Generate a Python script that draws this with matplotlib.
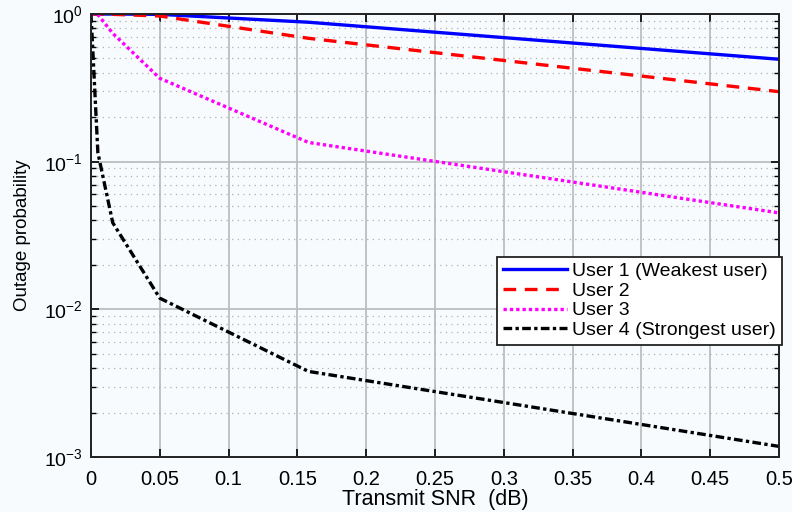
import numpy as np
import matplotlib
matplotlib.use('Agg')
import matplotlib.pyplot as plt
from matplotlib.ticker import LogLocator, NullFormatter

plt.rcParams['font.family'] = ['Liberation Sans', 'DejaVu Sans']
plt.rcParams['mathtext.fontset'] = 'custom'
plt.rcParams['mathtext.rm'] = 'Liberation Sans'
plt.rcParams['mathtext.it'] = 'Liberation Sans'

# transmit SNR sample points
snr = [0, 0.005, 0.0158, 0.05, 0.158, 0.5]

user1 = [1.0, 1.0, 1.0, 0.995, 0.88, 0.494]
user2 = [1.0, 1.0, 0.995, 0.97, 0.685, 0.298]
user3 = [1.0, 0.99, 0.74, 0.367, 0.135, 0.045]
user4 = [1.0, 0.115, 0.0386, 0.0119, 0.0038, 0.00118]

labels = ['User 1 (Weakest user)', 'User 2', 'User 3', 'User 4 (Strongest user)']
xticks = [0, 0.05, 0.1, 0.15, 0.2, 0.25, 0.3, 0.35, 0.4, 0.45, 0.5]
xticklabels = ['0', '0.05', '0.1', '0.15', '0.2', '0.25', '0.3', '0.35', '0.4', '0.45', '0.5']

bg = '#f7fbfe'
fig = plt.figure(figsize=(7.92, 5.12), dpi=100, facecolor=bg)
ax = fig.add_axes([0.1149, 0.1074, 0.8687, 0.8652], facecolor=bg)

ax.semilogy(snr, user1, color='#0000ff', lw=2.4, ls='-', label=labels[0])
ax.semilogy(snr, user2, color='#ff0000', lw=2.4, ls=(0, (3.8, 2.6)), label=labels[1])
ax.semilogy(snr, user3, color='#ff00ff', lw=2.4, ls=(0, (1, 0.9)), label=labels[2])
ax.semilogy(snr, user4, color='black', lw=2.4, ls=(0, (2.6, 1, 1, 1)), label=labels[3])

ax.set_xlim(0, 0.5)
ax.set_ylim(1e-3, 1)
ax.set_xticks(xticks)
ax.set_xticklabels(xticklabels)
ax.yaxis.set_major_locator(LogLocator(base=10, numticks=10))
ax.yaxis.set_minor_locator(LogLocator(base=10, subs=np.arange(2, 10), numticks=10))
ax.yaxis.set_minor_formatter(NullFormatter())

ax.grid(True, which='major', color='#bdbdbd', lw=1.3, ls='-')
ax.grid(True, which='minor', axis='y', color='#b0b0b0', lw=0.9, ls=(0, (1, 3.5)))
ax.set_axisbelow(True)

ax.tick_params(which='both', direction='in', top=True, right=True, colors='black')
ax.tick_params(axis='x', labelsize=14.5, pad=9)
ax.tick_params(axis='y', labelsize=14, pad=6)
ax.tick_params(which='major', length=6, width=1.2)
ax.tick_params(which='minor', length=3.5, width=1.0)
for s in ax.spines.values():
    s.set_linewidth(1.4)
    s.set_color('#222222')

ax.set_xlabel('Transmit SNR  (dB)', fontsize=15.5, labelpad=0)
ax.set_ylabel('Outage probability', fontsize=13.5, labelpad=9)

leg = ax.legend(loc='upper left', bbox_to_anchor=(0.590, 0.452), fontsize=14,
                frameon=True, fancybox=False, framealpha=1, edgecolor='#222222',
                handlelength=3.3, handletextpad=0.27, borderpad=0.3, labelspacing=0.1,
                borderaxespad=0)
leg.get_frame().set_linewidth(1.3)
leg.get_frame().set_facecolor('white')

fig.savefig('out.png', dpi=100, facecolor=bg)
